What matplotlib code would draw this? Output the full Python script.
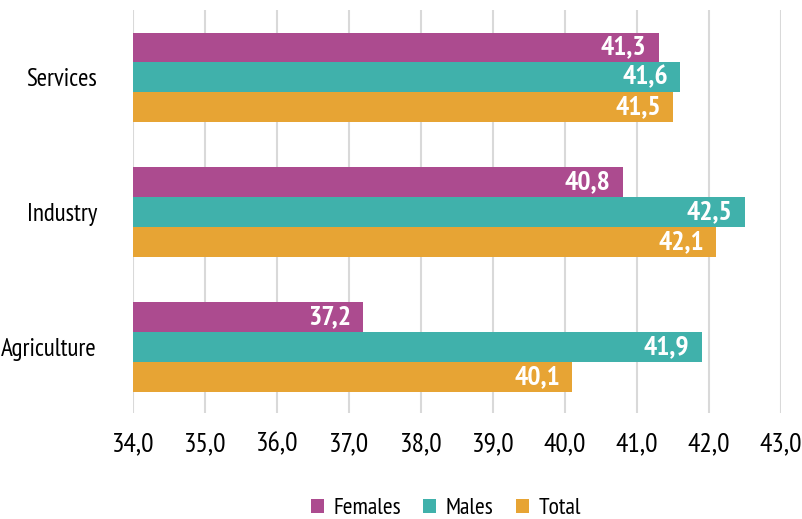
import numpy as np
import matplotlib.pyplot as plt

plt.rcParams['font.family'] = ['PT Sans Narrow', 'Roboto Condensed', 'DejaVu Sans']

categories = ["Agriculture", "Industry", "Services"]
females = [37.2, 40.8, 41.3]
males = [41.9, 42.5, 41.6]
total = [40.1, 42.1, 41.5]

series = [("Females", females, "#AC4B8F"),
          ("Males", males, "#40B1AB"),
          ("Total", total, "#E7A434")]

fig = plt.figure(figsize=(8.02, 5.19), dpi=100)
ax = fig.add_axes([0.1658, 0.2042, 0.808, 0.7765])

y = np.arange(len(categories))
h = 0.222
offsets = [h, 0, -h]
for (name, vals, col), off in zip(series, offsets):
    bars = ax.barh(y + off, [v - 34 for v in vals], left=34, height=h,
                   color=col, label=name, zorder=2)
    for b, v in zip(bars, vals):
        ax.text(v - 0.17, b.get_y() + h / 2, f"{v:.1f}".replace(".", ","),
                ha="right", va="center", color="white", fontsize=20,
                fontweight="bold", zorder=3)

ax.set_xlim(34, 43)
ax.set_ylim(-0.49, 2.5)
ax.set_xticks(np.arange(34, 44, 1))
ax.set_xticklabels([f"{t:.1f}".replace(".", ",") for t in np.arange(34, 44, 1)], fontsize=20)
ax.set_yticks(y)
ax.set_yticklabels(categories, fontsize=18)
ax.tick_params(axis="y", length=0, pad=26)
ax.tick_params(axis="x", length=0, pad=14)
ax.grid(axis="x", color="#D9D9D9", linewidth=1.5, zorder=0)
for s in ax.spines.values():
    s.set_visible(False)

fig.legend(*ax.get_legend_handles_labels(), loc="center",
           bbox_to_anchor=(0.556, 0.02), bbox_transform=fig.transFigure,
           ncol=3, frameon=False, fontsize=17, handlelength=0.55, handleheight=0.55,
           columnspacing=0.95, handletextpad=0.4, borderaxespad=0, borderpad=0)

fig.savefig("out.png", dpi=100)
